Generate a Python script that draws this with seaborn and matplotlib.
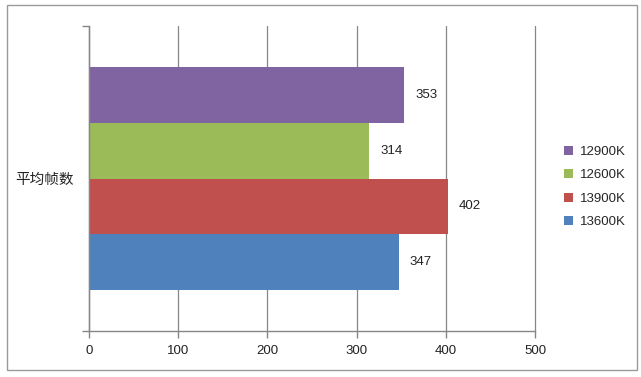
import matplotlib
matplotlib.use("Agg")
import matplotlib.pyplot as plt
import seaborn as sns
import pandas as pd
from matplotlib.patches import Rectangle

category = ["平均帧数"]
series = ["12900K", "12600K", "13900K", "13600K"]
values = [353, 314, 402, 347]
colors = ["#8064A2", "#9BBB59", "#C0504D", "#4F81BD"]
xticks = [0, 100, 200, 300, 400, 500]

sns.set_theme(style="white")
plt.rcParams['font.family'] = ['Liberation Sans', 'Noto Sans CJK SC', 'DejaVu Sans']

df = pd.DataFrame({"cat": category * len(series), "series": series, "value": values})

fig = plt.figure(figsize=(6.41, 3.77), dpi=100)
ax = fig.add_axes([89/641, 1 - 331/377, (535 - 89)/641, (331 - 26)/377])

sns.barplot(data=df, y="cat", x="value", hue="series", hue_order=series,
            palette=colors, orient="h", width=0.734, saturation=1,
            ax=ax, legend=True, edgecolor="none")

ax.set_xlim(0, 500)
ax.set_ylim(0.5, -0.5)
ax.set_xticks(xticks)
ax.set_xticklabels([str(t) for t in xticks], fontsize=9.5, color="#222222")
ax.set_yticks([0])
ax.set_yticklabels(category, fontsize=10.5, family=['Noto Sans CJK SC', 'DejaVu Sans'], color="#222222")
ax.set_yticks([-0.5, 0.5], minor=True)
ax.tick_params(axis="y", which="major", length=0, pad=11)
ax.tick_params(axis="y", which="minor", length=5, color="#868686", width=1, direction="out", left=True)
ax.tick_params(axis="x", length=5, color="#868686", width=1, direction="out", bottom=True, pad=5)
ax.set_xlabel("")
ax.set_ylabel("")

ax.grid(axis="x", color="#868686", linewidth=0.9)
for gl in ax.get_xgridlines():
    gl.set_clip_on(False)
ax.set_axisbelow(True)
for s in ["top", "right"]:
    ax.spines[s].set_visible(False)
for s in ["left", "bottom"]:
    ax.spines[s].set_color("#868686")
    ax.spines[s].set_linewidth(1)

for cont in ax.containers:
    ax.bar_label(cont, labels=[f"{int(v)}" for v in cont.datavalues],
                 padding=8, fontsize=9.5, color="#222222")

handles, labels = ax.get_legend_handles_labels()
ax.legend(handles, labels, loc="center left", bbox_to_anchor=(552/641, 1 - 187/377),
          bbox_transform=fig.transFigure, frameon=False, fontsize=9.5,
          handlelength=0.7, handleheight=0.7, handletextpad=0.5, labelspacing=0.85)

fig.patches.append(Rectangle((7/641, 1 - 370/377), 630/641, 365/377, transform=fig.transFigure,
                             fill=False, edgecolor="#9a9a9a", linewidth=1))

fig.savefig("out.png", dpi=100, facecolor="white")
